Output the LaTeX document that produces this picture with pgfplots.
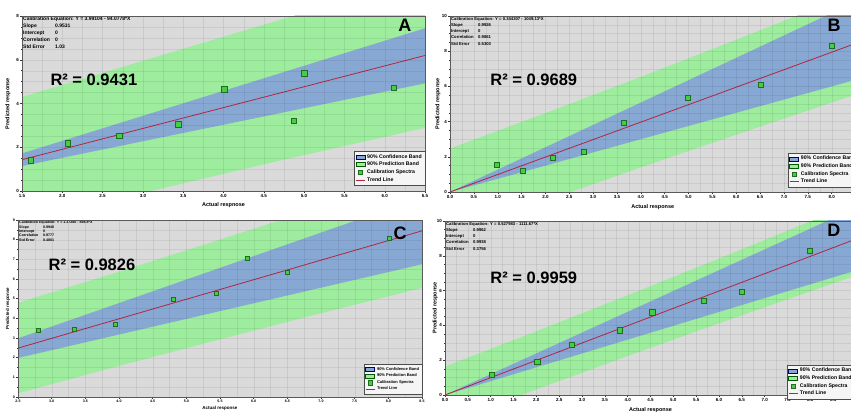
\documentclass[border=0pt]{standalone}
\usepackage{fontspec}
\setmainfont{Liberation Sans}
\usepackage{pgfplots}
\pgfplotsset{compat=1.18}
\definecolor{bandgreen}{RGB}{158,236,158}
\definecolor{bandblue}{RGB}{136,168,212}
\definecolor{bggray}{RGB}{218,218,218}
\definecolor{ptgreen}{RGB}{70,205,70}
\definecolor{ptdark}{RGB}{30,110,30}
\definecolor{trendred}{RGB}{178,38,62}
\pgfplotsset{
 calib/.style={
   scale only axis, axis on top,
   axis background/.style={fill=bggray},
   grid=both,
   grid style={black, opacity=0.07, line width=0.3pt},
   minor grid style={black, opacity=0.07, line width=0.3pt},
   tick pos=left, tick align=outside,
   major tick length=2pt, minor tick length=1pt,
   tick style={black!80, line width=0.4pt},
   axis line style={black!65, line width=0.6pt},
   /pgf/number format/assume math mode=true,
   xticklabel style={font=\fontsize{4.5}{4.5}\selectfont\bfseries, inner sep=1pt, /pgf/number format/fixed, /pgf/number format/fixed zerofill, /pgf/number format/precision=1},
   yticklabel style={font=\fontsize{4.5}{4.5}\selectfont\bfseries, inner sep=1pt, /pgf/number format/fixed, /pgf/number format/precision=0},
   legend cell align=left,
 }
}
\newcommand{\calibleg}{%
 \addlegendimage{legend image code/.code={\draw[fill=bandblue,draw=blue!40!black,line width=0.3pt] (0pt,-2pt) rectangle (9pt,2pt);}}
 \addlegendentry{90\% Confidence Band}
 \addlegendimage{legend image code/.code={\draw[fill=bandgreen,draw=green!35!black,line width=0.3pt] (0pt,-2pt) rectangle (9pt,2pt);}}
 \addlegendentry{90\% Prediction Band}
 \addlegendimage{legend image code/.code={\draw[fill=ptgreen,draw=ptdark,line width=0.4pt] (2.5pt,-2.2pt) rectangle (6.5pt,2.2pt);}}
 \addlegendentry{Calibration Spectra}
 \addlegendimage{legend image code/.code={\draw[trendred,line width=0.8pt] (0pt,0pt) -- (9pt,0pt);}}
 \addlegendentry{Trend Line}
}
\begin{document}
\begin{tikzpicture}[x=1pt,y=1pt]
\useasboundingbox (0,0) rectangle (851,412);

% ---------------- Panel A ----------------
\begin{axis}[calib, at={(22pt,221pt)}, anchor=south west,
  width=403pt, height=175pt,
  xmin=1.5, xmax=6.5, ymin=0, ymax=8,
  xtick={1.5,2,...,6.5}, ytick={0,2,4,6,8},
  minor x tick num=1, minor y tick num=3,
  xlabel={Actual respnose}, ylabel={Predicted response},
  xlabel style={at={(axis description cs:0.5,-0.08)}, anchor=center, font=\fontsize{5.5}{5.5}\selectfont\bfseries},
  ylabel style={at={(axis description cs:-0.035,0.5)}, anchor=center, font=\fontsize{5.5}{5.5}\selectfont\bfseries},
  legend style={at={(1,0.03)}, anchor=south east, font=\fontsize{5.2}{5.6}\selectfont\bfseries,
    fill=gray!8, draw=black!70, line width=0.3pt, inner sep=1pt, row sep=-1.6pt,
    /tikz/every even column/.append style={column sep=1pt}},
]
\calibleg
\addplot[fill=bandgreen, draw=none, forget plot] coordinates {
 (1.5,4.30) (2.5,5.40) (3.5,6.50) (4.5,7.60) (5.5,8.70) (6.5,9.80)
 (6.5,2.89) (5.5,2.06) (4.5,1.22) (3.5,0.35) (2.5,-0.53) (1.5,-1.44)} --cycle;
\addplot[fill=bandblue, draw=none, forget plot] coordinates {
 (1.5,1.72) (6.5,7.44) (6.5,4.92) (1.5,1.14)} --cycle;
\addplot[trendred, line width=0.8pt, forget plot] coordinates {(1.5,1.43) (6.5,6.195)};
\addplot[only marks, mark=square*, mark size=2.8pt, mark options={fill=ptgreen, draw=ptdark, line width=0.5pt}, forget plot] coordinates {
 (1.61,1.40) (2.07,2.17) (2.71,2.52) (3.44,3.04) (4.01,4.64) (4.87,3.21) (5.00,5.39) (6.11,4.72)};
\node[anchor=north west, align=left, inner sep=1pt, font=\fontsize{5}{6.8}\selectfont\bfseries] at (rel axis cs:0,1)
 {Calibration Equation: Y = 3.99104 - 94.0778*X\\
  \makebox[32pt][l]{Slope}0.9531\\
  \makebox[32pt][l]{Intercept}0\\
  \makebox[32pt][l]{Correlation}0\\
  \makebox[32pt][l]{Std Error}1.03};
\node[anchor=west, font=\fontsize{16.5}{16.5}\selectfont\bfseries] at (rel axis cs:0.062,0.634) {R² = 0.9431};
\node[font=\fontsize{18}{18}\selectfont\bfseries] at (rel axis cs:0.95,0.949) {A};
\end{axis}

% ---------------- Panel B ----------------
\begin{axis}[calib, at={(450pt,220pt)}, anchor=south west,
  width=405.5pt, height=176pt,
  xmin=0, xmax=8.5, ymin=0, ymax=10,
  xtick={0,0.5,...,8}, ytick={0,2,4,6,8,10},
  minor x tick num=1, minor y tick num=3,
  xlabel={Actual response}, ylabel={Predicted response},
  xlabel style={at={(axis description cs:0.5,-0.085)}, anchor=center, font=\fontsize{5.5}{5.5}\selectfont\bfseries},
  ylabel style={at={(axis description cs:-0.030,0.5)}, anchor=center, font=\fontsize{5.5}{5.5}\selectfont\bfseries},
  legend style={at={(0.8335,0.2216)}, anchor=north west, font=\fontsize{5.2}{5.6}\selectfont\bfseries,
    fill=gray!8, draw=black!70, line width=0.3pt, inner sep=1pt, row sep=-1.6pt,
    /tikz/every even column/.append style={column sep=1pt}},
]
\calibleg
\addplot[fill=bandgreen, draw=none, forget plot] coordinates {
 (0,2.47) (2,4.48) (4,6.54) (6,8.65) (8,10.80) (8.5,11.35)
 (8.5,5.53) (8,5.08) (6,3.26) (4,1.40) (2,-0.51) (0,-2.47)} --cycle;
\addplot[fill=bandblue, draw=none, forget plot] coordinates {
 (0,0) (8.5,10.80) (8.5,6.375)} --cycle;
\addplot[trendred, line width=0.8pt, forget plot] coordinates {(0,0) (8.5,8.437)};
\addplot[only marks, mark=square*, mark size=2.5pt, mark options={fill=ptgreen, draw=ptdark, line width=0.5pt}, forget plot] coordinates {
 (0.98,1.57) (1.52,1.18) (2.15,1.95) (2.80,2.31) (3.65,3.93) (4.98,5.37) (6.51,6.07) (8.00,8.29)};
\node[anchor=north west, align=left, inner sep=1pt, font=\fontsize{4.2}{6.2}\selectfont\bfseries] at (rel axis cs:0,1)
 {Calibration Equation: Y = 0.344307 - 1049.13*X\\
  \makebox[27pt][l]{Slope}0.9926\\
  \makebox[27pt][l]{Intercept}0\\
  \makebox[27pt][l]{Correlation}0.9861\\
  \makebox[27pt][l]{Std Error}0.5303};
\node[anchor=west, font=\fontsize{16.5}{16.5}\selectfont\bfseries] at (rel axis cs:0.091,0.636) {R² = 0.9689};
\node[font=\fontsize{18}{18}\selectfont\bfseries] at (rel axis cs:0.947,0.949) {B};
\end{axis}

% ---------------- Panel C ----------------
\begin{axis}[calib, at={(18pt,15pt)}, anchor=south west,
  width=404pt, height=177pt,
  xmin=2.5, xmax=8.5, ymin=0, ymax=9,
  xtick={2.5,3,...,8.5}, ytick={0,1,...,9},
  minor x tick num=1, minor y tick num=1,
  xticklabel style={font=\fontsize{3.6}{3.6}\selectfont\bfseries},
  yticklabel style={font=\fontsize{3.6}{3.6}\selectfont\bfseries},
  xlabel={Actual response}, ylabel={Predicted response},
  xlabel style={at={(axis description cs:0.5,-0.062)}, anchor=center, font=\fontsize{4.5}{4.5}\selectfont\bfseries},
  ylabel style={at={(axis description cs:-0.025,0.5)}, anchor=center, font=\fontsize{4.5}{4.5}\selectfont\bfseries},
  legend style={at={(1,0.015)}, anchor=south east, font=\fontsize{4}{4.4}\selectfont\bfseries,
    fill=gray!8, draw=black!70, line width=0.3pt, inner sep=0.8pt, row sep=-1.8pt,
    /tikz/every even column/.append style={column sep=0.8pt}},
]
\calibleg
\addplot[fill=bandgreen, draw=none, forget plot] coordinates {
 (2.5,4.79) (4,6.37) (5.5,8.00) (7,9.66) (8.5,11.35)
 (8.5,5.55) (7,4.26) (5.5,2.93) (4,1.58) (2.5,0.19)} --cycle;
\addplot[fill=bandblue, draw=none, forget plot] coordinates {
 (2.5,2.985) (8.5,10.15) (8.5,6.75) (2.5,1.985)} --cycle;
\addplot[trendred, line width=0.8pt, forget plot] coordinates {(2.5,2.485) (8.5,8.449)};
\addplot[only marks, mark=square*, mark size=2pt, mark options={fill=ptgreen, draw=ptdark, line width=0.5pt}, forget plot] coordinates {
 (2.80,3.40) (3.34,3.45) (3.94,3.70) (4.81,4.99) (5.44,5.30) (5.90,7.03) (6.50,6.32) (8.02,8.06)};
\node[anchor=north west, align=left, inner sep=1pt, font=\fontsize{3.6}{4.3}\selectfont\bfseries] at (rel axis cs:0,1)
 {Calibration Equation: Y = 1.37280 - 898.8*X\\
  \makebox[24pt][l]{Slope}0.9940\\
  \makebox[24pt][l]{Intercept}0\\
  \makebox[24pt][l]{Correlation}0.9777\\
  \makebox[24pt][l]{Std Error}0.4801};
\node[anchor=west, font=\fontsize{16.5}{16.5}\selectfont\bfseries] at (rel axis cs:0.067,0.746) {R² = 0.9826};
\node[font=\fontsize{18}{18}\selectfont\bfseries] at (rel axis cs:0.946,0.927) {C};
\end{axis}

% ---------------- Panel D ----------------
\begin{axis}[calib, at={(445pt,17pt)}, anchor=south west,
  width=411pt, height=174pt,
  xmin=0, xmax=9, ymin=0, ymax=10,
  xtick={0,0.5,...,8.5}, ytick={0,2,4,6,8,10},
  minor x tick num=1, minor y tick num=3,
  xlabel={Actual response}, ylabel={Predicted response},
  xlabel style={at={(axis description cs:0.5,-0.085)}, anchor=center, font=\fontsize{5.5}{5.5}\selectfont\bfseries},
  ylabel style={at={(axis description cs:-0.024,0.5)}, anchor=center, font=\fontsize{5.5}{5.5}\selectfont\bfseries},
  legend style={at={(0.832,0.172)}, anchor=north west, font=\fontsize{5.2}{5.6}\selectfont\bfseries,
    fill=gray!8, draw=black!70, line width=0.3pt, inner sep=1pt, row sep=-1.6pt,
    /tikz/every even column/.append style={column sep=1pt}},
]
\calibleg
\addplot[fill=bandgreen, draw=none, forget plot] coordinates {
 (0,1.64) (2,3.66) (4,5.73) (6,7.84) (8,9.98) (9,11.06)
 (9,6.87) (8,5.96) (6,4.12) (4,2.24) (2,0.32) (0,-1.64)} --cycle;
\addplot[fill=bandblue, draw=none, forget plot] coordinates {
 (0,0) (9,10.76) (9,7.16)} --cycle;
\addplot[trendred, line width=0.8pt, forget plot] coordinates {(0,0) (9,8.966)};
\addplot[only marks, mark=square*, mark size=2.6pt, mark options={fill=ptgreen, draw=ptdark, line width=0.5pt}, forget plot] coordinates {
 (1.02,1.15) (2.02,1.92) (2.78,2.87) (3.83,3.72) (4.54,4.75) (5.66,5.40) (6.50,5.94) (7.98,8.30)};
\node[anchor=north west, align=left, inner sep=1pt, font=\fontsize{4.2}{6.2}\selectfont\bfseries] at (rel axis cs:0,1)
 {Calibration Equation: Y = 0.527983 - 1111.67*X\\
  \makebox[27pt][l]{Slope}0.9962\\
  \makebox[27pt][l]{Intercept}0\\
  \makebox[27pt][l]{Correlation}0.9938\\
  \makebox[27pt][l]{Std Error}0.3756};
\node[anchor=west, font=\fontsize{16.5}{16.5}\selectfont\bfseries] at (rel axis cs:0.102,0.672) {R² = 0.9959};
\node[font=\fontsize{18}{18}\selectfont\bfseries] at (rel axis cs:0.946,0.948) {D};
\end{axis}
\end{tikzpicture}
\end{document}
